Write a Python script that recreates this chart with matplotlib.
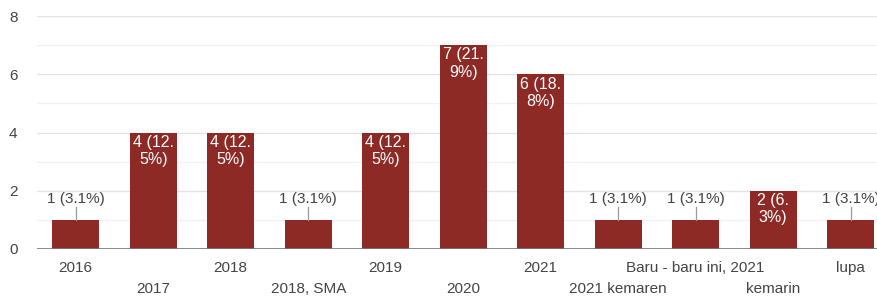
import matplotlib.pyplot as plt

# data
categories = ["2016", "2017", "2018", "2018, SMA", "2019", "2020", "2021",
              "2021 kemaren", "Baru - baru ini, 2021", "kemarin", "lupa"]
counts = [1, 4, 4, 1, 4, 7, 6, 1, 1, 2, 1]
pct_labels = ["1 (3.1%)", "4 (12.\n5%)", "4 (12.\n5%)", "1 (3.1%)", "4 (12.\n5%)",
              "7 (21.\n9%)", "6 (18.\n8%)", "1 (3.1%)", "1 (3.1%)", "2 (6.\n3%)", "1 (3.1%)"]

plt.rcParams['font.family'] = ['Liberation Sans', 'DejaVu Sans']

bar_color = '#8e2a26'
text_color = '#444444'

fig = plt.figure(figsize=(8.77, 2.98), dpi=100)
ax = fig.add_axes([37 / 877, 49 / 298, 840 / 877, 233 / 298])

x = list(range(len(categories)))
ax.bar(x, counts, width=0.61, color=bar_color, zorder=3)

# labels
for xi, v, lab in zip(x, counts, pct_labels):
    if v >= 2:
        ax.text(xi, v - 0.08, lab, ha='center', va='top', color='white',
                fontsize=11.5, linespacing=1.2, zorder=4)
    else:
        ax.plot([xi, xi], [v, v + 0.45], color='#999999', lw=0.9, zorder=4)
        ax.text(xi, v + 0.48, lab, ha='center', va='bottom', color=text_color,
                fontsize=11, zorder=4)

ax.set_xlim(-0.5, 10.34)
ax.set_ylim(0, 8)

# grid
for yv in range(1, 9):
    ax.axhline(yv, color='#e4e4e4' if yv % 2 == 0 else '#f1f1f1', lw=1, zorder=1)
ax.axhline(0, color='#777777', lw=1.2, zorder=5)

ax.set_yticks([0, 2, 4, 6, 8])
ax.tick_params(axis='y', length=0, labelsize=11, labelcolor=text_color, pad=14)
ax.set_xticks(x)
ax.set_xticklabels([])
ax.tick_params(axis='x', length=0)
for xi, lab in zip(x, categories):
    off = -0.64 if xi % 2 == 0 else -1.37
    ax.text(xi, off, lab, ha='center', va='center', color=text_color,
            fontsize=11, clip_on=False)

for s in ax.spines.values():
    s.set_visible(False)

fig.savefig("out.png", dpi=100)
